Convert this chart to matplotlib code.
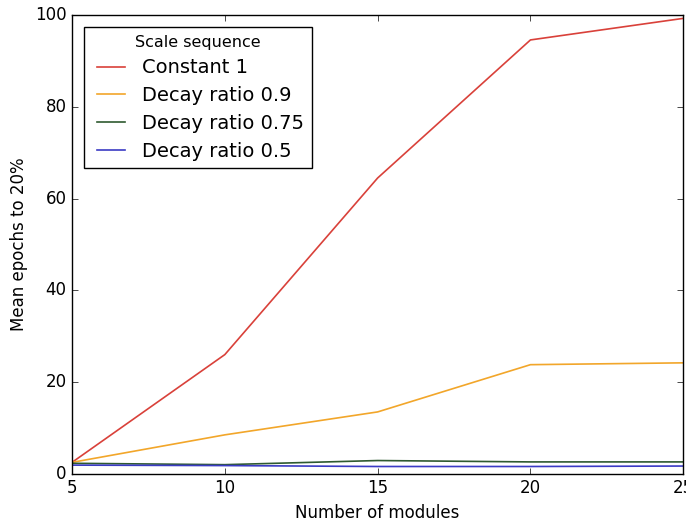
import matplotlib
matplotlib.use("Agg")
import matplotlib.pyplot as plt

modules = [5, 10, 15, 20, 25]
constant_1 = [2.5, 26.0, 64.5, 94.6, 99.3]
decay_09 = [2.5, 8.5, 13.5, 23.8, 24.2]
decay_075 = [2.3, 2.0, 2.9, 2.6, 2.6]
decay_05 = [1.9, 1.8, 1.6, 1.6, 1.7]

series = [
    ("Constant 1", constant_1, "#d9413a"),
    ("Decay ratio 0.9", decay_09, "#f2a62a"),
    ("Decay ratio 0.75", decay_075, "#2f5a30"),
    ("Decay ratio 0.5", decay_05, "#3b3bc4"),
]

plt.style.use("classic")
plt.rcParams["font.family"] = ["DejaVu Sans"]

fig = plt.figure(figsize=(6.86, 5.23), dpi=100, facecolor="white")
ax = fig.add_axes([0.105, 0.094, 0.891, 0.877])

for label, vals, color in series:
    ax.plot(modules, vals, color=color, lw=1.2, label=label)

ax.set_xlim(5, 25)
ax.set_ylim(0, 100)
ax.set_xticks([5, 10, 15, 20, 25])
ax.set_yticks([0, 20, 40, 60, 80, 100])
ax.tick_params(labelsize=12, direction="in")
ax.set_xlabel("Number of modules", fontsize=12)
ax.set_ylabel("Mean epochs to 20%", fontsize=12)

leg = ax.legend(loc="upper left", title="Scale sequence", fontsize=14,
                fancybox=False, framealpha=1, handlelength=2.0,
                handletextpad=0.6, borderaxespad=0.6, labelspacing=0.45)
leg.get_title().set_fontsize(11.5)

fig.savefig("out.png", dpi=100, facecolor="white")
